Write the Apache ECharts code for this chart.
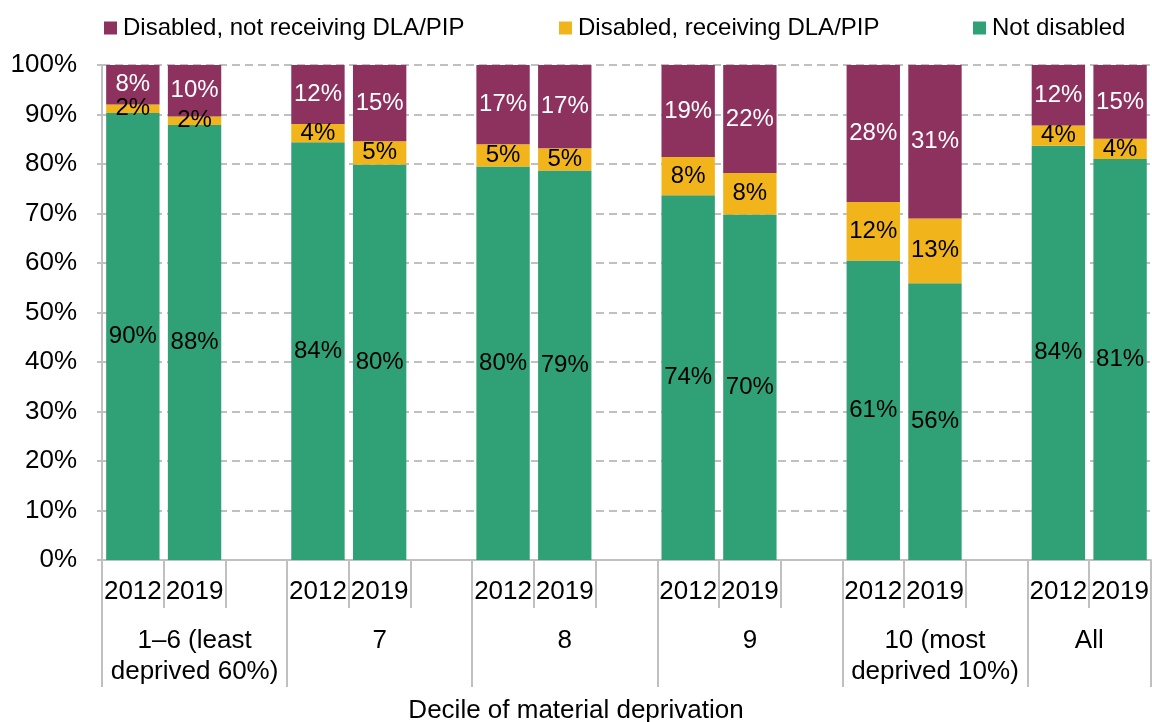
<!DOCTYPE html>
<html>
<head>
<meta charset="utf-8">
<script src="https://cdn.jsdelivr.net/npm/echarts@6/dist/echarts.min.js"></script>
<style>
  html, body { margin: 0; padding: 0; background: #fff; }
  #chart { width: 1152px; height: 722px; }
</style>
</head>
<body>
<div id="chart"></div>
<script>
    // 17 slots: 2012, 2019, blank spacer ... last group has no spacer
    var years = ['2012', '2019', '', '2012', '2019', '', '2012', '2019', '',
                 '2012', '2019', '', '2012', '2019', '', '2012', '2019'];
    var groups = ['1\u20136 (least\ndeprived 60%)', '7', '8', '9',
                  '10 (most\ndeprived 10%)', 'All'];
    var groupCentres = [1.5, 4.5, 7.5, 10.5, 13.5, 16];
    var groupEdges = [0, 3, 6, 9, 12, 15, 17];

    var notDisabled = [90.3, 87.9, '-', 84.4, 79.9, '-', 79.5, 78.7, '-',
                       73.7, 69.8, '-', 60.5, 55.9, '-', 83.7, 81.0];
    var receiving = [1.7, 1.7, '-', 3.7, 4.7, '-', 4.5, 4.5, '-',
                     7.7, 8.4, '-', 11.8, 13.1, '-', 4.1, 4.1];
    var notReceiving = [8.0, 10.4, '-', 11.9, 15.4, '-', 16.5, 16.8, '-',
                        18.6, 21.8, '-', 27.7, 31.0, '-', 12.2, 14.9];

    var names = ['Disabled, not receiving DLA/PIP', 'Disabled, receiving DLA/PIP', 'Not disabled'];
    var colors = ['#8d325f', '#f1b41b', '#30a076'];
    var font = 'Arial, "Liberation Sans", sans-serif';
    var gray = '#c0c0c0';
    var axisFont = 26;

    function pct(p) {
        return Math.round(p.value) + '%';
    }

    function makeSeries(name, data, color, labelColor) {
        return {
            name: name,
            type: 'bar',
            stack: 'total',
            data: data,
            barCategoryGap: '13.5%',
            itemStyle: { color: color },
            label: {
                show: true,
                position: 'inside',
                formatter: pct,
                color: labelColor,
                fontSize: 24,
                fontFamily: font
            }
        };
    }

    function legendAt(left, name) {
        return {
            left: left,
            top: 16,
            icon: 'rect',
            itemWidth: 13,
            itemHeight: 13,
            itemGap: 0,
            padding: 0,
            data: [name],
            selectedMode: false,
            textStyle: { fontSize: 24, fontFamily: font, color: '#000', padding: [0, 0, 0, 1] }
        };
    }

    var myChart = echarts.init(document.getElementById('chart'), null, { renderer: 'canvas' });
    var option = {
        animation: false,
        color: colors,
        title: {
            text: 'Decile of material deprivation',
            left: 'center',
            top: 698,
            padding: 0,
            textStyle: { fontSize: axisFont, fontWeight: 'normal', fontFamily: font, color: '#000' }
        },
        legend: [
            legendAt(104, names[0]),
            legendAt(559, names[1]),
            legendAt(973, names[2])
        ],
        grid: { left: 102, right: 1, top: 65, bottom: 162 },
        xAxis: [
            {
                type: 'category',
                data: years,
                axisLine: { lineStyle: { color: gray, width: 2 } },
                axisTick: { show: true, interval: 0, length: 48, lineStyle: { color: gray, width: 2 } },
                axisLabel: {
                    interval: 0,
                    margin: 16,
                    fontSize: axisFont,
                    lineHeight: 32,
                    fontFamily: font,
                    color: '#000'
                }
            },
            {
                type: 'value',
                position: 'bottom',
                min: 0,
                max: 17,
                splitLine: { show: false },
                axisLine: { show: false },
                axisTick: {
                    show: true,
                    length: 127,
                    customValues: groupEdges,
                    lineStyle: { color: gray, width: 2 }
                },
                axisLabel: {
                    customValues: groupCentres,
                    margin: 65,
                    fontSize: axisFont,
                    lineHeight: 31,
                    fontFamily: font,
                    color: '#000',
                    formatter: function (v) {
                        return groups[groupCentres.indexOf(v)];
                    }
                }
            }
        ],
        yAxis: {
            type: 'value',
            min: 0,
            max: 100,
            interval: 10,
            axisLine: { show: true, lineStyle: { color: gray, width: 2 } },
            axisTick: { show: true, length: 5, lineStyle: { color: gray, width: 2 } },
            axisLabel: {
                margin: 25,
                fontSize: axisFont,
                fontFamily: font,
                color: '#000',
                formatter: '{value}%'
            },
            splitLine: { lineStyle: { color: gray, width: 2, type: [8, 5] } }
        },
        series: [
            makeSeries(names[2], notDisabled, colors[2], '#000'),
            makeSeries(names[1], receiving, colors[1], '#000'),
            makeSeries(names[0], notReceiving, colors[0], '#fff')
        ]
    };
    myChart.setOption(option);
</script>
</body>
</html>
